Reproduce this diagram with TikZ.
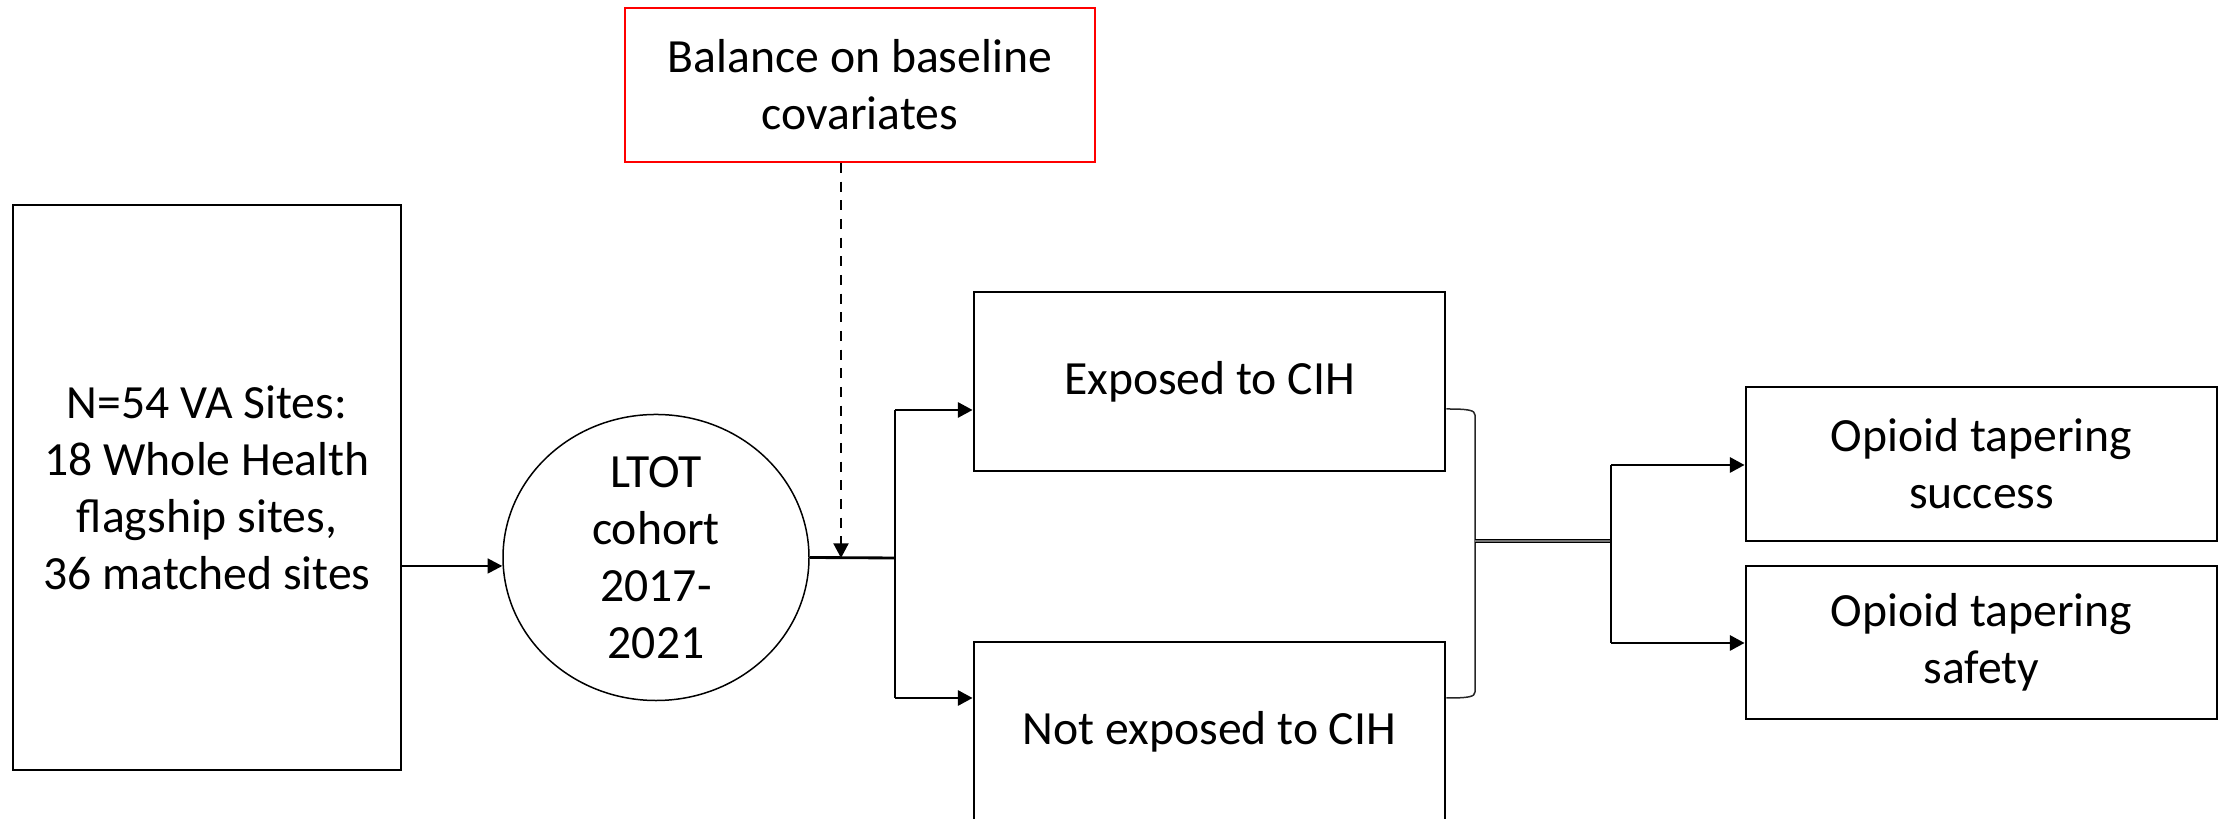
\documentclass[tikz,border=0pt]{standalone}
\usepackage{fontspec}
\setmainfont{Carlito}
\usetikzlibrary{arrows.meta,shapes.geometric}
\begin{document}
\begin{tikzpicture}[x=0.3pt,y=-0.3pt,
  every node/.style={font=\fontsize{14.3pt}{17.1pt}\selectfont, align=center, inner sep=0pt},
  boxthick/.style={draw, line width=0.85pt, rectangle},
  boxthin/.style={draw, line width=0.5pt, rectangle},
  redbox/.style={draw=red, line width=0.55pt, rectangle},
  oval/.style={draw, line width=0.45pt, ellipse},
  conn/.style={line width=0.85pt},
  thinconn/.style={line width=0.5pt},
  tip/.style={-{Triangle[length=4.4pt,width=4.5pt]}},
  dsh/.style={line width=0.65pt, dash pattern=on 3pt off 2.6pt},
  brk/.style={line width=0.45pt, black!85},
  dbl/.style={double=black!55, double distance=0.35pt, line width=0.45pt}
]
\useasboundingbox (0,0) rectangle (2228,819);

% nodes
\node[boxthin, minimum width=116.4pt, minimum height=169.5pt] (sites) at (207,487.5)
  {N=54 VA Sites:\\18 Whole Health\\flagship sites,\\36 matched sites};
\node[oval, minimum width=91.8pt, minimum height=83.7pt] (cohort) at (656,557.5)
  {LTOT\\cohort\\2017-\\2021};
\node[redbox, minimum width=141pt, minimum height=46.2pt] (balance) at (860,85)
  {Balance on baseline\\covariates};
\node[boxthick, minimum width=141.3pt, minimum height=53.7pt] (exp) at (1209.5,381.5)
  {Exposed to CIH};
\node[boxthick, minimum width=141.3pt, minimum height=54pt] (nexp) at (1209.5,732)
  {Not exposed to CIH};
\node[boxthick, minimum width=141.3pt, minimum height=46.2pt] (succ) at (1981.5,464)
  {Opioid tapering\\success};
\node[boxthick, minimum width=141.3pt, minimum height=45.9pt] (safe) at (1981.5,642.5)
  {Opioid tapering\\safety};

% coordinates
\coordinate (a1) at (401,566);
\coordinate (j1) at (841,558);
\coordinate (jv) at (895,558);
\coordinate (t1) at (895,410);
\coordinate (t2) at (895,698);
\coordinate (bt) at (1475,409);
\coordinate (bb) at (1475,698);
\coordinate (dm) at (1475,541);
\coordinate (dv) at (1611,541);
\coordinate (s1) at (1611,465);
\coordinate (s2) at (1611,643);

% connectors
\draw[thinconn,tip] (sites.east |- a1) -- (cohort.west |- a1);
\draw[conn] (cohort.east) -- (jv);
\draw[dsh,tip] (balance.south -| j1) -- (j1);
\draw[conn] (t1) -- (t2);
\draw[conn,tip] (t1) -- (t1 -| exp.west);
\draw[conn,tip] (t2) -- (t2 -| nexp.west);
\draw[brk] (bt -| exp.east) .. controls (1468,409) and (1475,410) .. (1475,415)
  -- (1475,692) .. controls (1475,697) and (1468,698) .. (bb -| nexp.east);
\draw[dbl] (dm) -- (dv);
\draw[conn] (s1) -- (s2);
\draw[conn,tip] (s1) -- (s1 -| succ.west);
\draw[conn,tip] (s2) -- (s2 -| safe.west);
\end{tikzpicture}
\end{document}
